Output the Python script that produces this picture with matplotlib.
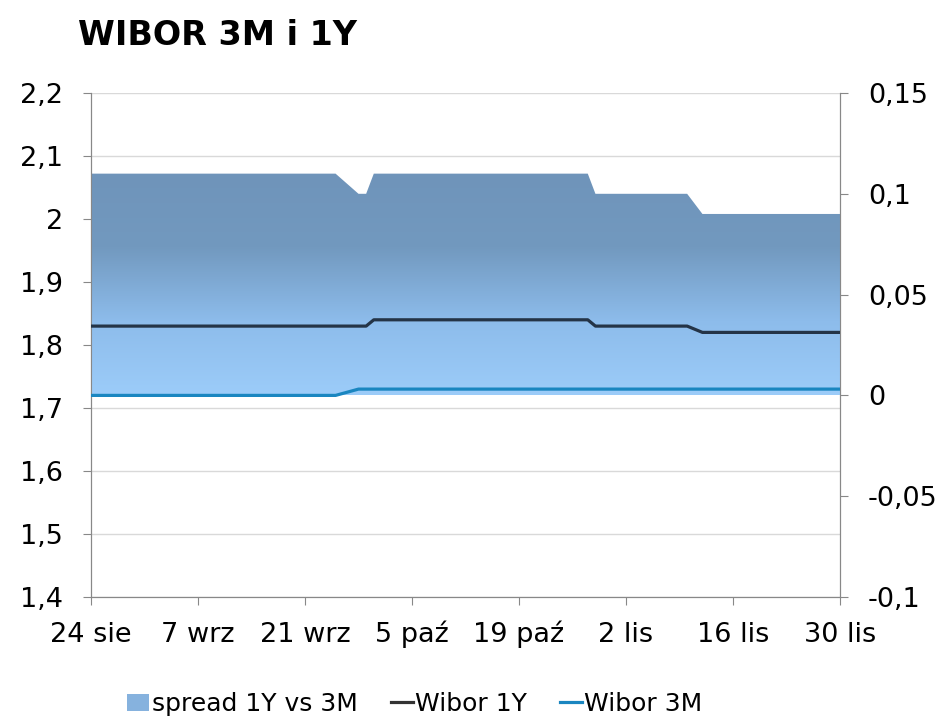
import matplotlib
matplotlib.use("Agg")
import matplotlib.pyplot as plt
import matplotlib.dates as mdates
from matplotlib.colors import LinearSegmentedColormap
from matplotlib.patches import Patch
from matplotlib.lines import Line2D
import numpy as np
import datetime as dt

plt.rcParams['font.family'] = ['DejaVu Sans']

# Data (change points of business-day series)
dates = ["2015-08-24", "2015-09-25", "2015-09-28", "2015-09-29", "2015-09-30",
         "2015-10-28", "2015-10-29", "2015-11-10", "2015-11-12", "2015-11-30"]
wibor_1y = [1.83, 1.83, 1.83, 1.83, 1.84, 1.84, 1.83, 1.83, 1.82, 1.82]
wibor_3m = [1.72, 1.72, 1.73, 1.73, 1.73, 1.73, 1.73, 1.73, 1.73, 1.73]
spread = [0.11, 0.11, 0.10, 0.10, 0.11, 0.11, 0.10, 0.10, 0.09, 0.09]

tick_dates = ["2015-08-24", "2015-09-07", "2015-09-21", "2015-10-05",
              "2015-10-19", "2015-11-02", "2015-11-16", "2015-11-30"]
tick_labels = ["24 sie", "7 wrz", "21 wrz", "5 paź", "19 paź", "2 lis", "16 lis", "30 lis"]
left_ticks = [1.4, 1.5, 1.6, 1.7, 1.8, 1.9, 2.0, 2.1, 2.2]
left_labels = ["1,4", "1,5", "1,6", "1,7", "1,8", "1,9", "2", "2,1", "2,2"]
right_ticks = [-0.1, -0.05, 0, 0.05, 0.1, 0.15]
right_labels = ["-0,1", "-0,05", "0", "0,05", "0,1", "0,15"]

x = mdates.date2num([dt.datetime.strptime(d, "%Y-%m-%d") for d in dates])
xt = mdates.date2num([dt.datetime.strptime(d, "%Y-%m-%d") for d in tick_dates])

fig = plt.figure(figsize=(9.47, 7.28), dpi=100)
rect = [91/947, 1-597/728, (840-91)/947, (597-93)/728]
ax = fig.add_axes(rect)          # left axis, grid (bottom layer)
ax2 = ax.twinx()                 # right axis, spread area (middle)
ax3 = ax.twinx()                 # lines on left scale (top)

FS = 19.5
gray = "#888888"

# left axis
ax.set_xlim(xt[0], xt[-1])
ax.set_ylim(1.4, 2.2)
ax.set_yticks(left_ticks)
ax.set_yticklabels(left_labels)
ax.set_xticks(xt)
ax.set_xticklabels(tick_labels)
ax.grid(axis='y', color="#D9D9D9", linewidth=1.0)
ax.set_axisbelow(True)
for a in (ax, ax2, ax3):
    a.spines['top'].set_visible(False)
for s in ['left', 'bottom', 'right']:
    ax.spines[s].set_color(gray)
    ax2.spines[s].set_color(gray)
ax.tick_params(axis='y', labelsize=FS, length=6, color=gray, pad=14, width=0.8)
ax.tick_params(axis='x', labelsize=FS, length=6, color=gray, pad=26.4, width=0.8)
for lab in ax.get_xticklabels():
    lab.set_verticalalignment('baseline')

# right axis
ax2.set_ylim(-0.1, 0.15)
ax2.set_yticks(right_ticks)
ax2.set_yticklabels(right_labels)
ax2.tick_params(axis='y', labelsize=FS, length=6, color=gray, pad=14, width=0.8)
ax2.set_xlim(xt[0], xt[-1])
ax2.patch.set_visible(False)

# spread area with gradient, on right axis
poly = ax2.fill_between(x, 0, spread, color='none', linewidth=0)
cmap = LinearSegmentedColormap.from_list("g", ["#9CCCF9", "#8DBCEB", "#7299BF", "#6F94BA"])
grad = np.linspace(0, 1, 256).reshape(-1, 1)
im = ax2.imshow(grad, cmap=cmap, origin='lower', aspect='auto',
                extent=[x[0], x[-1], 0, max(spread)], zorder=1)
im.set_clip_path(poly.get_paths()[0], transform=ax2.transData)
ax2.set_xlim(xt[0], xt[-1])
ax2.set_ylim(-0.1, 0.15)

# lines on left scale (top layer)
ax3.set_ylim(1.4, 2.2)
ax3.set_xlim(xt[0], xt[-1])
ax3.patch.set_visible(False)
ax3.axis('off')
ax3.plot(x, wibor_1y, color="#243447", linewidth=2.3, solid_joinstyle='round')
ax3.plot(x, wibor_3m, color="#1A86C0", linewidth=2.3, solid_joinstyle='round')

# title
fig.text(78/947, 1-45/728, "WIBOR 3M i 1Y", fontsize=24, fontweight='bold',
         va='baseline', ha='left')

# legend
handles = [Patch(facecolor="#86B2DE", edgecolor='none'),
           Line2D([], [], color="#333333", linewidth=2.3),
           Line2D([], [], color="#1A86C0", linewidth=2.3)]
labels = ["spread 1Y vs 3M", "Wibor 1Y", "Wibor 3M"]
fig.legend(handles, labels, loc='center', bbox_to_anchor=(415/947, 1-704/728),
           ncol=3, frameon=False, fontsize=18, handlelength=0.88, handletextpad=0.1,
           columnspacing=1.32, handleheight=0.65)

fig.savefig("out.png", dpi=100)
